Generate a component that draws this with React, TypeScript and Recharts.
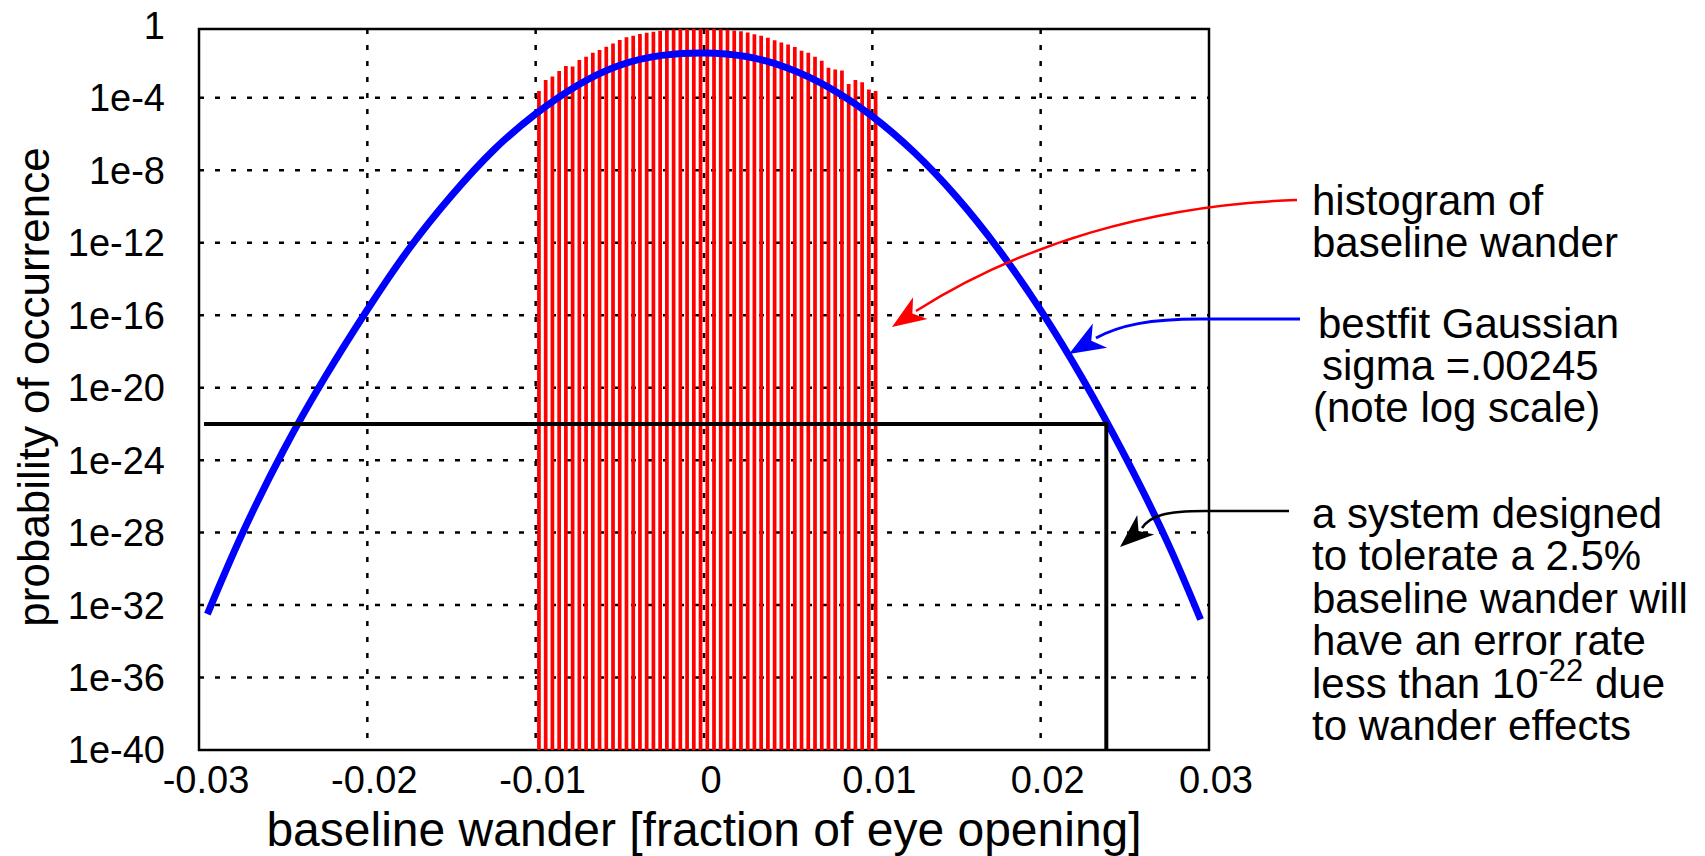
import React from "react";
import { ComposedChart, Bar, Line, XAxis, YAxis, CartesianGrid, ReferenceArea } from "recharts";

// axis ticks
const xTicks = [-0.03, -0.02, -0.01, 0, 0.01, 0.02, 0.03];
const yTicks = [1e-40, 1e-36, 1e-32, 1e-28, 1e-24, 1e-20, 1e-16, 1e-12, 1e-8, 1e-4, 1];
const gridX = [-0.02, -0.01, 0, 0.01, 0.02];
const gridY = [1e-36, 1e-32, 1e-28, 1e-24, 1e-20, 1e-16, 1e-12, 1e-8, 1e-4];

// histogram of baseline wander (bin centres and heights)
const binCenters = [
  -0.0098, -0.0094, -0.009, -0.0086, -0.0082, -0.0078, -0.0074, -0.007, -0.0066, -0.0062,
  -0.0058, -0.0054, -0.005, -0.0046, -0.0042, -0.0038, -0.0034, -0.003, -0.0026, -0.0022,
  -0.0018, -0.0014, -0.001, -0.0006, -0.0002, 0.0002, 0.0006, 0.001, 0.0014, 0.0018,
  0.0022, 0.0026, 0.003, 0.0034, 0.0038, 0.0042, 0.0046, 0.005, 0.0054, 0.0058,
  0.0062, 0.0066, 0.007, 0.0074, 0.0078, 0.0082, 0.0086, 0.009, 0.0094, 0.0098, 0.0102,
];
const binCounts = [
  2.1e-4, 8.3e-4, 1.3e-3, 2.6e-3, 4.9e-3, 4.6e-3, 1.05e-2, 1.6e-2, 2.7e-2, 3.8e-2,
  5.8e-2, 8.7e-2, 0.135, 0.19, 0.23, 0.29, 0.34, 0.39, 0.44, 0.48,
  0.52, 0.55, 0.56, 0.59, 0.6, 0.59, 0.56, 0.54, 0.5, 0.46,
  0.41, 0.355, 0.28, 0.23, 0.18, 0.13, 0.1, 0.076, 0.055, 0.035,
  0.027, 0.016, 0.0098, 0.004, 0.0032, 0.0028, 5.0e-4, 8.3e-4, 6.3e-4, 2.5e-4, 2.1e-4,
];

// best fit gaussian
const fitX = [
  -0.0295, -0.0275, -0.025, -0.0225, -0.02, -0.0175, -0.015, -0.0125, -0.01, -0.0075, -0.005, -0.0025,
  0, 0.0025, 0.005, 0.0075, 0.01, 0.0125, 0.015, 0.0175, 0.02, 0.0225, 0.025, 0.0275, 0.0295,
];
const fitP = [
  3.2e-33, 6.3e-29, 3.2e-24, 4.0e-20, 2.0e-16, 5.0e-13, 4.0e-10, 1.3e-7, 1.3e-5, 5.0e-4, 6.3e-3, 2.2e-2,
  3.0e-2, 1.9e-2, 4.3e-3, 3.4e-4, 9.5e-6, 9.5e-8, 3.4e-10, 4.3e-13, 1.9e-16, 3.0e-20, 1.7e-24, 3.4e-29, 1.6e-33,
];

// the 1e-22 design limit
const limitX = [-0.0297, 0.0239, 0.0239];
const limitP = [1e-22, 1e-22, 1e-40];

const histData = binCenters.map((x, i) => ({ x, count: binCounts[i] }));
const fitData = fitX.map((x, i) => ({ x, p: fitP[i] }));
const limitData = limitX.map((x, i) => ({ x, t: limitP[i] }));

const FONT = "'Liberation Sans', Arial, Helvetica, sans-serif";
const Y_TOP = 0.631;

const fmtX = (v: number) => (v === 0 ? "0" : v.toFixed(2));
const fmtY = (v: number) => (v >= 0.99 ? "1" : `1e${Math.round(Math.log10(v))}`);

function Arrow({ d, tip, from, color, width = 2.5, len = 34, half = 13 }: any) {
  const dx = tip[0] - from[0];
  const dy = tip[1] - from[1];
  const n = Math.hypot(dx, dy);
  const ux = dx / n, uy = dy / n;
  const bx = tip[0] - ux * len, by = tip[1] - uy * len;
  const px = -uy, py = ux;
  const nx = tip[0] - ux * len * 0.72, ny = tip[1] - uy * len * 0.72;
  const pts = [
    [tip[0], tip[1]],
    [bx + px * half, by + py * half],
    [nx, ny],
    [bx - px * half, by - py * half],
  ].map((p) => p.join(",")).join(" ");
  return (
    <g>
      <path d={d} fill="none" stroke={color} strokeWidth={width} />
      <polygon points={pts} fill={color} />
    </g>
  );
}

export default function App() {
  const txt = { fontFamily: FONT, fontSize: 42, fill: "#000" };
  return (
    <div style={{ position: "absolute", left: 0, top: 0, width: 1705, height: 856, background: "#fff", fontFamily: FONT }}>
      <ComposedChart
        width={1705}
        height={856}
        data={histData}
        margin={{ top: 29, right: 496, bottom: 0, left: 0 }}
      >
        <CartesianGrid
          horizontalValues={gridY}
          verticalValues={gridX}
          stroke="#000"
          strokeWidth={2.5}
          strokeDasharray="5 11"
        />
        <XAxis
          type="number"
          dataKey="x"
          domain={[-0.03, 0.03]}
          ticks={xTicks}
          interval={0}
          allowDataOverflow
          tickFormatter={fmtX}
          axisLine={false}
          tickLine={false}
          tickSize={0}
          tickMargin={16}
          height={106}
          tick={{ fill: "#000", fontSize: 38, fontFamily: FONT, dx: 7 }}
        />
        <YAxis
          type="number"
          scale="log"
          domain={[1e-40, Y_TOP]}
          ticks={yTicks}
          interval={0}
          allowDataOverflow
          tickFormatter={fmtY}
          axisLine={false}
          tickLine={false}
          tickSize={0}
          tickMargin={34}
          width={199}
          tick={{ fill: "#000", fontSize: 38, fontFamily: FONT }}
        />
        <Bar
          dataKey="count"
          barSize={6.7}
          fill="none"
          stroke="#ff0000"
          strokeWidth={2.2}
          isAnimationActive={false}
        />
        <Line
          data={fitData}
          dataKey="p"
          type="natural"
          stroke="#0000ff"
          strokeWidth={7}
          dot={false}
          isAnimationActive={false}
        />
        <Line
          data={limitData}
          dataKey="t"
          type="linear"
          stroke="#000"
          strokeWidth={4}
          dot={false}
          isAnimationActive={false}
        />
        <ReferenceArea
          x1={-0.03}
          x2={0.03}
          y1={1e-40}
          y2={Y_TOP}
          fill="none"
          stroke="#000"
          strokeWidth={2.5}
        />
      </ComposedChart>

      <svg
        width={1705}
        height={856}
        style={{ position: "absolute", left: 0, top: 0, pointerEvents: "none" }}
      >
        <text x={0} y={0} transform="translate(49,387) rotate(-90)" textAnchor="middle" style={{ ...txt, fontSize: 44 }}>
          probability of occurrence
        </text>
        <text x={704} y={846} textAnchor="middle" style={{ ...txt, fontSize: 48 }}>
          baseline wander [fraction of eye opening]
        </text>

        <Arrow d="M1297,200 C1150,205 1020,245 916,311" from={[916, 311]} tip={[892, 327]} color="#ff0000" />
        <Arrow d="M1300,319 L1200,319 C1150,319 1120,325 1096,338" from={[1096, 338]} tip={[1069, 354]} color="#0000ff" width={3} len={36} half={14} />
        <Arrow d="M1289,511 L1205,511 C1165,511 1150,516 1142,528" from={[1142, 528]} tip={[1120, 547]} color="#000" />

        <text style={txt}>
          <tspan x={1312} y={215}>histogram of</tspan>
          <tspan x={1312} y={257}>baseline wander</tspan>
        </text>
        <text style={txt}>
          <tspan x={1318} y={338}>bestfit Gaussian</tspan>
          <tspan x={1322} y={380}>sigma =.00245</tspan>
          <tspan x={1313} y={422}>(note log scale)</tspan>
        </text>
        <text style={txt}>
          <tspan x={1312} y={528}>a system designed</tspan>
          <tspan x={1312} y={570}>to tolerate a 2.5%</tspan>
          <tspan x={1312} y={613}>baseline wander will</tspan>
          <tspan x={1312} y={655}>have an error rate</tspan>
        </text>
        <text style={txt}>
          <tspan x={1312} y={698}>less than 10</tspan>
          <tspan dy={-17} style={{ fontSize: 31 }}>-22</tspan>
          <tspan dy={17}> due</tspan>
        </text>
        <text style={txt}>
          <tspan x={1312} y={740}>to wander effects</tspan>
        </text>
      </svg>
    </div>
  );
}
